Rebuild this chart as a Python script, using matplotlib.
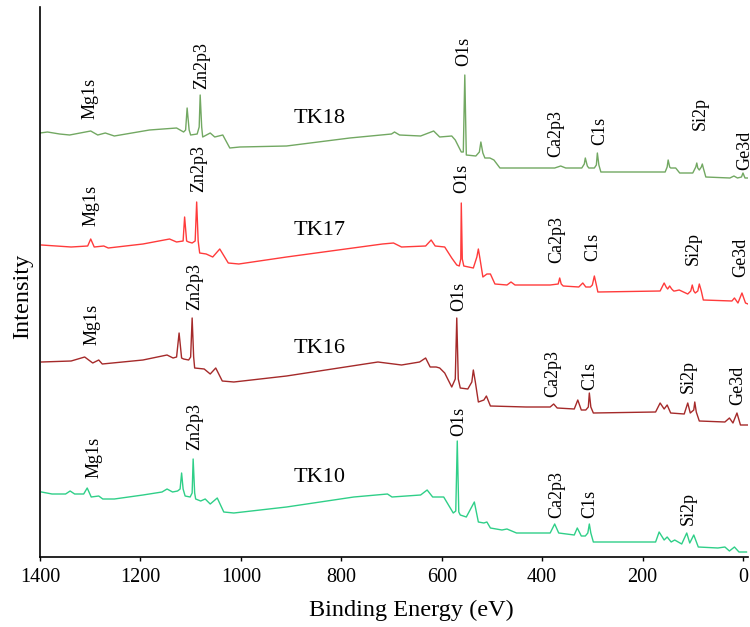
import matplotlib
matplotlib.use("Agg")
import matplotlib.pyplot as plt

# ---------------- data (binding energy in eV, intensity in a.u., stacked) -------------
energy_tk18 = [1400, 1385, 1361, 1341, 1299, 1285, 1270, 1252, 1182, 1128, 1114, 1110, 1107, 1103,
               1100, 1087, 1083, 1081, 1078, 1076, 1061, 1052, 1036, 1022, 1002, 909, 783, 700,
               694, 684, 642, 616, 604, 580, 573, 561, 557, 554, 551, 532, 525, 522, 518, 514,
               504, 496, 484, 375, 363, 353, 321, 316, 314, 310, 307, 296, 292, 290, 287, 283,
               155, 151, 149, 146, 144, 134, 126, 100, 94, 92, 90, 87, 83, 81, 79, 74, 26, 18,
               11, 3, 0, -4, -10]
intensity_tk18 = [424, 425, 423, 422, 426, 422, 424, 421, 427, 429, 425, 427, 449, 427,
                  422, 423, 430, 462, 430, 420, 424, 420, 422, 409, 410, 411, 419, 423,
                  425, 422, 421, 426, 420, 421, 417, 405, 405, 482, 402, 401, 405, 415, 404, 399,
                  399, 397, 389, 389, 391, 389, 389, 393, 399, 391, 389, 389, 392, 404, 392, 385,
                  385, 390, 397, 390, 389, 389, 384, 384, 390, 394, 389, 387, 390, 393, 389, 380,
                  379, 381, 379, 380, 384, 379, 379]

energy_tk17 = [1397, 1338, 1305, 1299, 1292, 1273, 1264, 1195, 1142, 1128, 1115, 1112, 1108, 1104,
               1097, 1091, 1088, 1085, 1082, 1069, 1056, 1042, 1025, 1004, 909, 718, 696, 680,
               632, 621, 613, 594, 580, 570, 565, 562, 561, 559, 556, 537, 530, 527, 524, 518,
               510, 503, 494, 470, 462, 454, 384, 368, 365, 362, 358, 327, 319, 313, 304, 300,
               296, 292, 289, 165, 161, 157, 153, 150, 146, 142, 138, 136, 127, 110, 104, 101,
               98, 95, 90, 87, 83, 79, 22, 17, 10, 2, -5, -10]
intensity_tk17 = [312, 310, 311, 318, 310, 311, 309, 313, 318, 315, 316, 340, 316, 315,
                  314, 316, 355, 316, 304, 303, 300, 308, 294, 293, 300, 313, 314, 310,
                  311, 317, 311, 310, 299, 292, 291, 298, 354, 298, 291, 289, 300, 308, 299, 280,
                  283, 283, 273, 272, 275, 272, 272, 273, 279, 273, 271, 270, 274, 270, 270, 272,
                  281, 272, 265, 266, 270, 274, 270, 268, 271, 268, 266, 266, 267, 263, 266, 272,
                  266, 264, 266, 273, 266, 257, 256, 259, 254, 264, 254, 253]

energy_tk16 = [1397, 1338, 1311, 1295, 1283, 1276, 1195, 1147, 1135, 1128, 1123, 1118, 1114, 1104,
               1100, 1097, 1094, 1092, 1073, 1061, 1050, 1037, 1014, 909, 727, 680, 644, 632,
               623, 611, 604, 594, 580, 573, 570, 567, 563, 548, 540, 537, 533, 527, 516, 511,
               503, 432, 384, 377, 370, 336, 329, 322, 313, 308, 306, 303, 298, 174, 165, 157,
               151, 144, 117, 110, 105, 98, 96, 93, 87, 36, 27, 20, 12, 5, -9]
intensity_tk16 = [195, 196, 200, 194, 197, 193, 197, 202, 199, 200, 224, 199, 198, 197,
                  200, 239, 200, 189, 188, 183, 189, 176, 175, 181, 195, 192, 195, 199,
                  190, 190, 189, 184, 170, 178, 239, 178, 169, 168, 175, 187, 175, 155, 157, 161,
                  151, 150, 150, 153, 149, 148, 157, 147, 147, 150, 164, 150, 144, 145, 154, 148,
                  152, 144, 143, 154, 144, 147, 155, 145, 136, 135, 139, 134, 144, 132, 132]

energy_tk10 = [1397, 1376, 1349, 1340, 1331, 1313, 1306, 1298, 1283, 1275, 1252, 1195, 1157, 1147,
               1136, 1126, 1121, 1118, 1115, 1111, 1101, 1097, 1095, 1092, 1090, 1080, 1071, 1061,
               1047, 1034, 1014, 909, 775, 708, 699, 642, 629, 618, 604, 596, 577, 572, 569, 566,
               563, 551, 535, 527, 516, 510, 503, 480, 470, 451, 432, 384, 375, 367, 336, 330,
               322, 314, 309, 306, 303, 298, 174, 167, 157, 151, 143, 136, 122, 112, 106, 98,
               89, 50, 36, 27, 17, 8, -7]
intensity_tk10 = [65, 63, 63, 66, 63, 63, 69, 60, 61, 58, 58, 62, 65, 68,
                  65, 66, 68, 84, 68, 61, 60, 64, 98, 64, 58, 56, 58, 53,
                  59, 45, 44, 50, 60, 63, 60, 62, 67, 60, 60, 60, 44, 46, 116, 45,
                  42, 40, 55, 35, 34, 35, 29, 27, 28, 24, 24, 24, 33, 24, 22, 29,
                  21, 21, 24, 33, 24, 15, 15, 25, 17, 20, 15, 17, 13, 24, 14, 22,
                  10, 9, 10, 6, 10, 5, 5]

series_names = ["TK18", "TK17", "TK16", "TK10"]
series_colors = ["#72a862", "#ff3b3b", "#a52a2a", "#2fcf88"]

peak_names = ["Mg1s", "Zn2p3", "O1s", "Ca2p3", "C1s", "Si2p", "Ge3d"]
# label anchors (energy, intensity) for each series; None = label not shown
labels_tk18 = [(1301, 438), (1078, 468), (556, 491), (373, 400), (286, 412), (86, 427), (-4, 387)]
labels_tk17 = [(1299, 331), (1084, 365), (560, 364), (371, 294), (299, 296), (100, 292), (4, 280)]
labels_tk16 = [(1297, 212), (1092, 247), (566, 246), (379, 160), (305, 167), (108, 164), (10, 152)]
labels_tk10 = [(1293, 79), (1092, 107), (566, 121), (371, 39), (305, 39), (108, 32), None]
name_anchor_energy = 843
name_anchor_intensity = [439, 327, 209, 79]

# ---------------- figure --------------------------------------------------------------
plt.rcParams["font.family"] = ["Liberation Serif", "DejaVu Serif"]
fig = plt.figure(figsize=(7.5, 6.27), dpi=100)
ax = fig.add_axes([40 / 750, 70 / 627, 708 / 750, 550 / 627])

energies = [energy_tk18, energy_tk17, energy_tk16, energy_tk10]
intensities = [intensity_tk18, intensity_tk17, intensity_tk16, intensity_tk10]
labels_all = [labels_tk18, labels_tk17, labels_tk16, labels_tk10]

for e, i, c in zip(energies, intensities, series_colors):
    ax.plot(e, i, color=c, lw=1.0, solid_joinstyle="round")

for labs in labels_all:
    for name, pos in zip(peak_names, labs):
        if pos is None:
            continue
        ax.text(pos[0], pos[1], name, rotation=90, ha="center", va="bottom",
                fontsize=13, clip_on=False)

for name, yv in zip(series_names, name_anchor_intensity):
    ax.text(name_anchor_energy, yv, name, ha="center", va="center", fontsize=16)

ax.set_xlim(1400, -10)
ax.set_ylim(0, 550)
ax.set_xticks(range(0, 1401, 200))
ax.set_yticks([])
ax.tick_params(axis="x", direction="out", length=3, width=1.0, labelsize=14.5, pad=5)
for s in ["top", "right"]:
    ax.spines[s].set_visible(False)
for s in ["left", "bottom"]:
    ax.spines[s].set_linewidth(1.2)
ax.set_xlabel("Binding Energy (eV)", fontsize=17.5)
ax.set_ylabel("Intensity", fontsize=17.5)
ax.xaxis.set_label_coords(0.524, -0.078)
ax.yaxis.set_label_coords(-0.010, 0.473)

fig.savefig("out.png", dpi=100)
